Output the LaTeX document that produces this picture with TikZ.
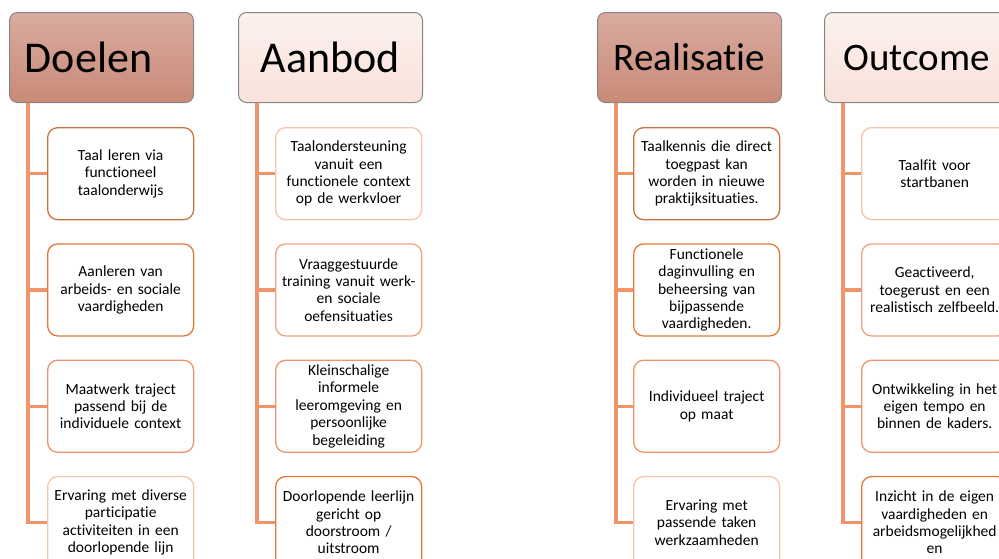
\documentclass[tikz,border=0pt]{standalone}
\usepackage{fontspec}
\setmainfont{Carlito}[Ligatures=NoCommon]
\usetikzlibrary{positioning}
\definecolor{headline}{HTML}{8A8582}
\definecolor{darktop}{HTML}{D9ABA0}
\definecolor{darkbot}{HTML}{C98A77}
\definecolor{lighttop}{HTML}{FCF1ED}
\definecolor{lightbot}{HTML}{F9E2DA}
\definecolor{connline}{HTML}{F2946A}
\definecolor{edgeA}{HTML}{C8743F}
\definecolor{edgeB}{HTML}{E6793A}
\definecolor{edgeC}{HTML}{F0946A}
\definecolor{edgeD}{HTML}{F8C3AB}
\tikzset{
  head/.style={draw=headline, line width=1pt, rounded corners=8pt,
    minimum width=184pt, minimum height=90pt, inner sep=0pt,
    font=\fontsize{44}{48}\selectfont},
  darkhead/.style={head, top color=darktop, bottom color=darkbot},
  lighthead/.style={head, top color=lighttop, bottom color=lightbot},
  item/.style={fill=white, line width=1.3pt, rounded corners=10pt,
    minimum width=146pt, minimum height=92pt, text width=142pt,
    inner sep=0pt, align=center, font=\fontsize{15.5}{17.4}\selectfont},
  conn/.style={draw=connline, line width=3.3pt},
}
\begin{document}
\begin{tikzpicture}[x=1pt, y=-1pt]
  \useasboundingbox (0,0) rectangle (999,558);

  % Headers
  \node[darkhead, anchor=north west]  (D) at (9,12)   {Doelen\hspace*{26pt}\mbox{}};
  \node[lighthead, anchor=north west] (A) at (238,12) {Aanbod};
  \node[darkhead, anchor=north west, font=\fontsize{39}{44}\selectfont]  (R) at (597,12) {Realisatie};
  \node[lighthead, anchor=north west, font=\fontsize{39}{44}\selectfont] (O) at (824,12) {Outcome};

  % Doelen
  \node[item, draw=edgeA, below right=24pt and 38pt of D.south west] (d1) {Taal leren via\\functioneel\\taalonderwijs};
  \node[item, draw=edgeB, below=23pt of d1] (d2) {Aanleren van\\arbeids- en sociale\\vaardigheden};
  \node[item, draw=edgeC, below=23pt of d2] (d3) {Maatwerk traject\\passend bij de\\individuele context};
  \node[item, draw=edgeD, below=23pt of d3] (d4) {Ervaring met diverse\\participatie\\activiteiten in een\\doorlopende lijn};

  % Aanbod
  \node[item, draw=edgeD, below right=24pt and 37pt of A.south west] (a1) {Taalondersteuning\\vanuit een\\functionele context\\op de werkvloer};
  \node[item, draw=edgeC!70!edgeD, below=23pt of a1] (a2) {Vraaggestuurde\\training vanuit werk-\\en sociale\\oefensituaties};
  \node[item, draw=edgeC, below=23pt of a2] (a3) {Kleinschalige\\informele\\leeromgeving en\\persoonlijke\\begeleiding};
  \node[item, draw=edgeB, below=23pt of a3] (a4) {Doorlopende leerlijn\\gericht op\\doorstroom /\\uitstroom};

  % Realisatie
  \node[item, draw=edgeA, below right=24pt and 36pt of R.south west] (r1) {Taalkennis die direct\\toegpast kan\\worden in nieuwe\\praktijksituaties.};
  \node[item, draw=edgeB, below=23pt of r1] (r2) {Functionele\\daginvulling en\\beheersing van\\bijpassende\\vaardigheden.};
  \node[item, draw=edgeC, below=23pt of r2] (r3) {Individueel traject\\op maat};
  \node[item, draw=edgeD, below=23pt of r3] (r4) {Ervaring met\\passende taken\\werkzaamheden};

  % Outcome
  \node[item, draw=edgeD, below right=24pt and 37pt of O.south west] (o1) {Taalfit voor\\startbanen};
  \node[item, draw=edgeC!70!edgeD, below=23pt of o1] (o2) {Geactiveerd,\\toegerust en een\\realistisch zelfbeeld.};
  \node[item, draw=edgeC, below=23pt of o2] (o3) {Ontwikkeling in het\\eigen tempo en\\binnen de kaders.};
  \node[item, draw=edgeB, below=23pt of o3] (o4) {Inzicht in de eigen\\vaardigheden en\\arbeidsmogelijkhed\\en};

  % Connect the nodes
  \foreach \h/\c in {D/d, A/a, R/r, O/o} {
    \foreach \i in {1,...,4}
      \draw[conn] ([xshift=19pt]\h.south west) |- (\c\i.west);
  }
\end{tikzpicture}
\end{document}
